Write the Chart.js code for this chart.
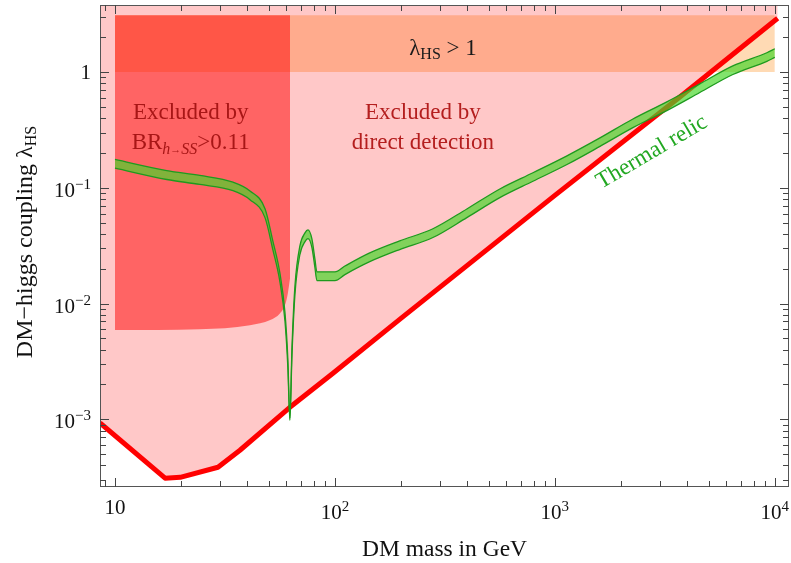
<!DOCTYPE html>
<html>
<head>
<meta charset="utf-8">
<script src="https://cdn.jsdelivr.net/npm/chart.js@4.4.1/dist/chart.umd.min.js"></script>
<style>
  html, body { margin: 0; padding: 0; background: #ffffff; }
  canvas { display: block; }
</style>
</head>
<body>
<canvas id="c" width="791" height="563"></canvas>
<script>
// ---- data: DM-Higgs portal coupling lambda_HS vs DM mass (GeV) ----

// thermal relic band: lower / upper edge of the coupling giving the observed abundance
const relicMass  = [10, 17.2, 24.3, 34.4, 41.1, 48.1, 52.2, 56.2, 59.3, 61.1, 62.4,
                    63.8, 65.8, 69.3, 73.1, 75.4, 78.6, 81.1, 82.8, 100, 111, 144, 197,
                    279, 398, 562, 795, 1135, 1603, 2264, 3228, 4560, 6442, 9200, 10000];
const relicUpper = [0.176, 0.141, 0.128, 0.112, 0.094, 0.066, 0.0348, 0.0184, 0.0083, 0.0033, 0.00102,
                    0.0042, 0.0142, 0.0315, 0.0408, 0.0433, 0.0362, 0.0243, 0.0188, 0.0188, 0.0211, 0.0274, 0.0348,
                    0.0443, 0.0657, 0.0978, 0.135, 0.189, 0.270, 0.393, 0.553, 0.791, 1.13, 1.47, 1.59];
const relicLower = [0.148, 0.118, 0.107, 0.0945, 0.079, 0.0553, 0.0293, 0.0155, 0.0070, 0.0028, 0.00098,
                    0.0036, 0.0119, 0.0265, 0.0343, 0.0364, 0.0305, 0.0205, 0.0158, 0.0158, 0.0178, 0.0230, 0.0293,
                    0.0372, 0.0553, 0.0823, 0.114, 0.159, 0.228, 0.331, 0.465, 0.666, 0.954, 1.24, 1.34];

// direct detection upper limit on the coupling
const ddMass     = [8.55, 16.9, 19.8, 29.4, 37, 62.4, 98, 197, 1000, 3700, 10300];
const ddCoupling = [9.3e-4, 3.1e-4, 3.15e-4, 3.85e-4, 5.4e-4, 1.27e-3, 2.5e-3, 7.3e-3, 0.086, 0.61, 2.92];

// invisible Higgs decays, BR(h -> SS) > 0.11: lower edge of the excluded region
const brMass     = [10, 24.3, 41.1, 50.8, 56.2, 59.3, 61.1, 62.5];
const brCoupling = [0.0059, 0.0060, 0.0065, 0.0072, 0.0082, 0.0097, 0.0123, 0.0165];
const brCeiling  = 3.1;

// non-perturbative band lambda_HS > 1
const pertMass     = [10, 10000];
const pertCoupling = [1, 1];
const pertCeiling  = 3.1;

// axis ranges and labelled decades
const massRange     = [8.55, 11600];
const couplingRange = [2.6e-4, 3.8];
const massDecades   = [10, 100, 1000, 10000];
const massExponents = ['', '2', '3', '4'];
const couplingDecades   = [1, 0.1, 0.01, 0.001];
const couplingBases     = ['1', '10', '10', '10'];
const couplingExponents = ['', '\u22121', '\u22122', '\u22123'];

// ---- styling ----
const SERIF = '"Liberation Serif", "DejaVu Serif", serif';
const TEXT_PX = 23;
const TICK_PX = 21;
const SUP_PX = 15;

function points(xs, ys) { return xs.map((x, i) => ({ x: x, y: ys[i] })); }

function runsWidth(ctx, runs) {
  let w = 0;
  for (const r of runs) { ctx.font = r.font; w += ctx.measureText(r.t).width; }
  return w;
}
function drawRuns(ctx, runs, x, y, align) {
  const w = runsWidth(ctx, runs);
  let cx = align === 'center' ? x - w / 2 : (align === 'right' ? x - w : x);
  ctx.textAlign = 'left';
  ctx.textBaseline = 'alphabetic';
  for (const r of runs) {
    ctx.font = r.font;
    ctx.fillText(r.t, cx, y + (r.dy || 0));
    cx += ctx.measureText(r.t).width;
  }
}
const plain  = (t, px) => ({ t: t, font: (px || TEXT_PX) + 'px ' + SERIF });
const italic = (t, px, dy) => ({ t: t, font: 'italic ' + px + 'px ' + SERIF, dy: dy });
const small  = (t, px, dy) => ({ t: t, font: px + 'px ' + SERIF, dy: dy });

// region labels, anchored in data coordinates (mass, coupling) at the first baseline
const notes = [
  { at: [22.1, 0.392], color: '#A81616', lines: [
      [plain('Excluded by')],
      [plain('BR'), italic('h', 16, 5), small('\u2192', 11, 4), italic('SS', 16, 5), plain('>0.11')] ] },
  { at: [251, 0.392], color: '#B41E1E', lines: [
      [plain('Excluded by')],
      [plain('direct detection')] ] },
  { at: [310, 1.40], color: '#1a1a1a', lines: [
      [plain('\u03bb'), small('HS', 16, 4), plain(' > 1')] ] },
  { at: [2848, 0.183], color: '#22A822', angle: -30.5, lines: [
      [plain('Thermal relic')] ] }
];
const LINE_GAP = 30;

// multiply blending for datasets flagged with blend: 'multiply'
const blendPlugin = {
  id: 'blend',
  beforeDatasetsDraw(chart) {
    const metas = chart.getSortedVisibleDatasetMetas();
    const first = metas[metas.length - 1];
    chart.ctx.globalCompositeOperation = (first && chart.data.datasets[first.index].blend) || 'source-over';
  },
  afterDatasetDraw(chart, args) {
    const metas = chart.getSortedVisibleDatasetMetas();
    const i = metas.indexOf(args.meta);
    const next = metas[i - 1];
    chart.ctx.globalCompositeOperation = (next && chart.data.datasets[next.index].blend) || 'source-over';
  },
  afterDatasetsDraw(chart) {
    chart.ctx.globalCompositeOperation = 'source-over';
  }
};

// region labels
const notesPlugin = {
  id: 'notes',
  afterDatasetsDraw(chart) {
    const ctx = chart.ctx;
    const xs = chart.scales.x, ys = chart.scales.y;
    for (const n of notes) {
      const px = xs.getPixelForValue(n.at[0]);
      const py = ys.getPixelForValue(n.at[1]);
      ctx.save();
      ctx.fillStyle = n.color;
      ctx.translate(px, py);
      if (n.angle) ctx.rotate(n.angle * Math.PI / 180);
      n.lines.forEach((runs, k) => drawRuns(ctx, runs, 0, k * LINE_GAP, 'center'));
      ctx.restore();
    }
  }
};

// frame with inward ticks on all four sides, tick labels and axis titles
const framePlugin = {
  id: 'frame',
  afterDraw(chart) {
    const ctx = chart.ctx;
    const a = chart.chartArea;
    const xs = chart.scales.x, ys = chart.scales.y;
    const MAJOR = 9, MINOR = 6;
    ctx.save();
    ctx.strokeStyle = '#555555';
    ctx.lineWidth = 1;
    ctx.strokeRect(Math.round(a.left) + 0.5, Math.round(a.top) + 0.5,
                   Math.round(a.right - a.left) - 1, Math.round(a.bottom - a.top) - 1);
    ctx.strokeStyle = '#444444';
    ctx.beginPath();
    for (let k = 0; k <= 4; k++) {
      for (let j = 1; j <= 9; j++) {
        const v = j * Math.pow(10, k);
        if (v < massRange[0] || v > massRange[1]) continue;
        const x = Math.round(xs.getPixelForValue(v)) + 0.5;
        const len = j === 1 ? MAJOR : MINOR;
        ctx.moveTo(x, a.bottom); ctx.lineTo(x, a.bottom - len);
        ctx.moveTo(x, a.top); ctx.lineTo(x, a.top + len);
      }
    }
    for (let k = -4; k <= 0; k++) {
      for (let j = 1; j <= 9; j++) {
        const v = j * Math.pow(10, k);
        if (v < couplingRange[0] || v > couplingRange[1]) continue;
        const y = Math.round(ys.getPixelForValue(v)) + 0.5;
        const len = j === 1 ? MAJOR : MINOR;
        ctx.moveTo(a.left, y); ctx.lineTo(a.left + len, y);
        ctx.moveTo(a.right, y); ctx.lineTo(a.right - len, y);
      }
    }
    ctx.stroke();

    ctx.fillStyle = '#111111';
    // mass tick labels
    massDecades.forEach((v, i) => {
      const x = xs.getPixelForValue(v);
      const runs = massExponents[i]
        ? [plain('10', TICK_PX), small(massExponents[i], SUP_PX, -8)]
        : [plain('10', TICK_PX)];
      drawRuns(ctx, runs, x, a.bottom + (massExponents[i] ? 32 : 27), 'center');
    });
    // coupling tick labels
    couplingDecades.forEach((v, i) => {
      const y = ys.getPixelForValue(v);
      const runs = couplingExponents[i]
        ? [plain(couplingBases[i], TICK_PX), small(couplingExponents[i], SUP_PX, -8)]
        : [plain(couplingBases[i], TICK_PX)];
      drawRuns(ctx, runs, a.left - 9, y + (couplingExponents[i] ? 9 : 7), 'right');
    });
    // axis titles
    drawRuns(ctx, [plain('DM mass in GeV', 23.5)], (a.left + a.right) / 2, 556, 'center');
    ctx.translate(32, 242);
    ctx.rotate(-Math.PI / 2);
    drawRuns(ctx, [plain('DM\u2212higgs coupling \u03bb', 24), small('HS', 16, 4)], 0, 0, 'center');
    ctx.restore();
  }
};

new Chart(document.getElementById('c'), {
  type: 'line',
  data: {
    datasets: [
      { label: 'direct detection region', data: points(ddMass, ddCoupling), fill: 'end',
        backgroundColor: '#FFC8C8', borderWidth: 0, pointRadius: 0, tension: 0, order: 9 },
      { label: 'BR region', data: points(brMass, brCoupling), fill: { value: brCeiling },
        backgroundColor: '#FF6464', borderWidth: 0, pointRadius: 0,
        cubicInterpolationMode: 'monotone', order: 8 },
      { label: 'lambda > 1', data: points(pertMass, pertCoupling), fill: { value: pertCeiling },
        backgroundColor: 'rgb(255,218,180)', borderWidth: 0, pointRadius: 0, order: 7, blend: 'multiply' },
      { label: 'direct detection limit', data: points(ddMass, ddCoupling), fill: false,
        borderColor: '#FF0000', borderWidth: 5, pointRadius: 0, tension: 0,
        borderJoinStyle: 'round', order: 6 },
      { label: 'relic band', data: points(relicMass, relicUpper), fill: '+1',
        backgroundColor: 'rgba(70,215,40,0.68)', borderWidth: 0, pointRadius: 0,
        cubicInterpolationMode: 'monotone', order: 5 },
      { label: 'relic lower', data: points(relicMass, relicLower), fill: false,
        borderColor: '#1E9A1E', borderWidth: 1.3, pointRadius: 0,
        cubicInterpolationMode: 'monotone', order: 4 },
      { label: 'relic upper', data: points(relicMass, relicUpper), fill: false,
        borderColor: '#1E9A1E', borderWidth: 1.3, pointRadius: 0,
        cubicInterpolationMode: 'monotone', order: 3 }
    ]
  },
  options: {
    responsive: false,
    animation: false,
    devicePixelRatio: 1,
    layout: { padding: { top: 5, right: 2, left: 0, bottom: 0 } },
    plugins: { legend: { display: false }, tooltip: { enabled: false } },
    scales: {
      x: { type: 'logarithmic', min: massRange[0], max: massRange[1],
           ticks: { display: false }, grid: { display: false }, border: { display: false },
           afterFit: (s) => { s.height = 76; } },
      y: { type: 'logarithmic', min: couplingRange[0], max: couplingRange[1],
           ticks: { display: false }, grid: { display: false }, border: { display: false },
           afterFit: (s) => { s.width = 100; } }
    }
  },
  plugins: [blendPlugin, notesPlugin, framePlugin]
});
</script>
</body>
</html>
